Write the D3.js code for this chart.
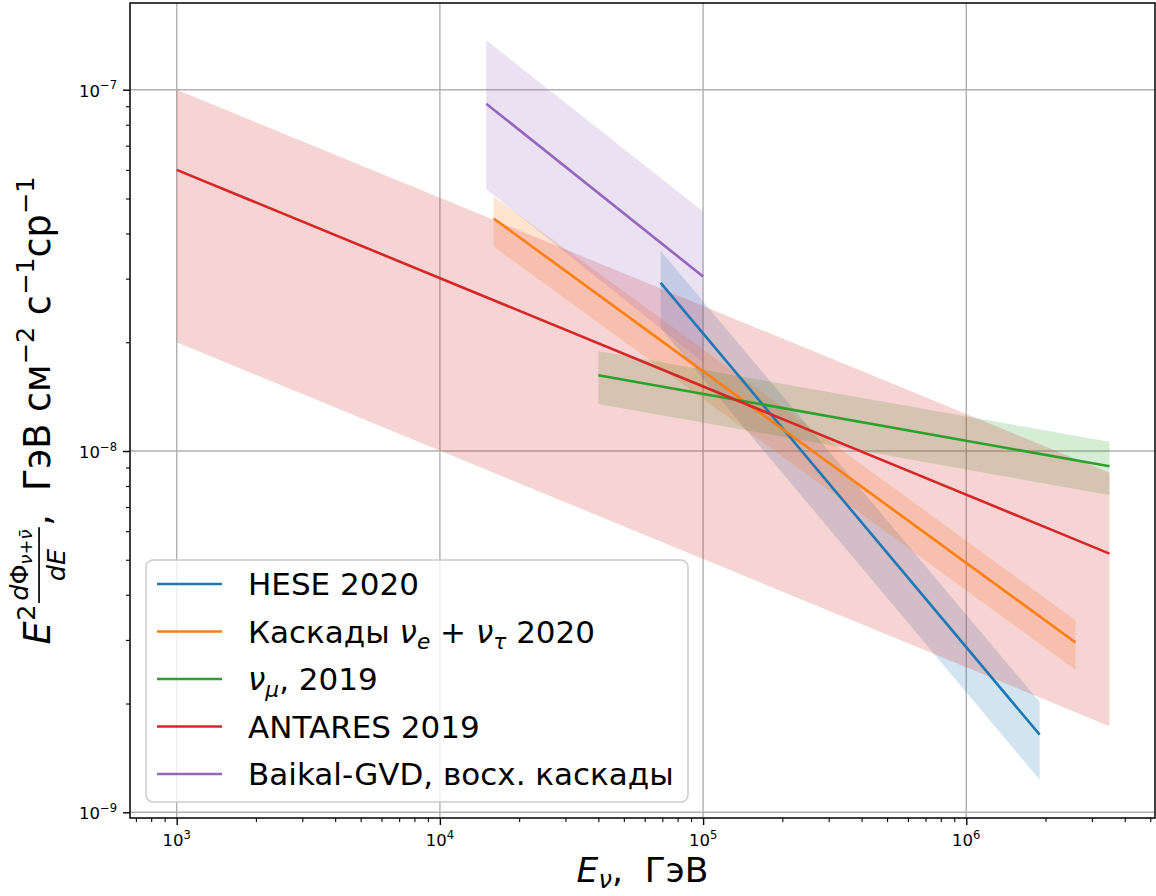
<!DOCTYPE html>
<html>
<head>
<meta charset="utf-8">
<script src="https://cdn.jsdelivr.net/npm/d3@7"></script>
<style>
  body { margin: 0; background: #ffffff; }
  text { font-family: "DejaVu Sans", sans-serif; fill: #000; }
</style>
</head>
<body>
<svg id="chart" width="1156" height="896"></svg>
<script>
// Diffuse astrophysical neutrino flux fits: best-fit power law and its uncertainty band.
const seriesLabels = ["HESE 2020", "Каскады ν_e + ν_τ 2020", "ν_μ, 2019", "ANTARES 2019", "Baikal-GVD, восх. каскады"];
const seriesColors = ["#1f77b4", "#ff7f0e", "#2ca02c", "#d62728", "#9467bd"];
// energy range of each fit, GeV
const energyMin = [6.9e4, 1.6e4, 4.0e4, 1.0e3, 1.5e4];
const energyMax = [1.9e6, 2.6e6, 3.5e6, 3.5e6, 1.0e5];
// E^2 dPhi/dE (GeV cm^-2 s^-1 sr^-1) of the best fit at both ends
const fluxAtMin = [2.92e-8, 4.40e-8, 1.62e-8, 6.0e-8, 9.15e-8];
const fluxAtMax = [1.64e-9, 2.95e-9, 9.07e-9, 5.2e-9, 3.04e-8];
// upper and lower edges of the uncertainty band at both ends
const upperAtMin = [3.58e-8, 5.06e-8, 1.89e-8, 1.0e-7, 1.37e-7];
const upperAtMax = [2.02e-9, 3.40e-9, 1.06e-8, 8.7e-9, 4.60e-8];
const lowerAtMin = [2.19e-8, 3.68e-8, 1.35e-8, 2.0e-8, 5.30e-8];
const lowerAtMax = [1.23e-9, 2.48e-9, 7.55e-9, 1.73e-9, 1.76e-8];
// axis ticks
const xMajorTicks = [1e3, 1e4, 1e5, 1e6];
const xTickExponents = ["3", "4", "5", "6"];
const yMajorTicks = [1e-9, 1e-8, 1e-7];
const yTickExponents = ["−9", "−8", "−7"];

const svg = d3.select("#chart");
const area = { left: 130, right: 1155, top: 3, bottom: 818 };

const x = d3.scaleLog()
  .domain([Math.pow(10, 2.8226), Math.pow(10, 6.717)])
  .range([area.left, area.right]);
const y = d3.scaleLog()
  .domain([Math.pow(10, -9.0158), Math.pow(10, -6.760)])
  .range([area.bottom, area.top]);

svg.append("defs").append("clipPath").attr("id", "plotClip")
  .append("rect")
  .attr("x", area.left).attr("y", area.top)
  .attr("width", area.right - area.left).attr("height", area.bottom - area.top);

// grid
const grid = svg.append("g").attr("stroke", "#b0b0b0").attr("stroke-width", 1.4);
grid.selectAll("line.gx").data(xMajorTicks).join("line")
  .attr("x1", d => x(d)).attr("x2", d => x(d))
  .attr("y1", area.top).attr("y2", area.bottom);
grid.selectAll("line.gy").data(yMajorTicks).join("line")
  .attr("y1", d => y(d)).attr("y2", d => y(d))
  .attr("x1", area.left).attr("x2", area.right);

const plotG = svg.append("g").attr("clip-path", "url(#plotClip)");
const idx = d3.range(seriesLabels.length);

// uncertainty bands
const poly = d3.line().x(d => x(d[0])).y(d => y(d[1]));
plotG.selectAll("path.band").data(idx).join("path")
  .attr("class", "band")
  .attr("d", i => poly([
    [energyMin[i], upperAtMin[i]], [energyMax[i], upperAtMax[i]],
    [energyMax[i], lowerAtMax[i]], [energyMin[i], lowerAtMin[i]]
  ]) + "Z")
  .attr("fill", i => seriesColors[i])
  .attr("fill-opacity", 0.2);

// best-fit lines
plotG.selectAll("path.fit").data(idx).join("path")
  .attr("class", "fit")
  .attr("d", i => poly([[energyMin[i], fluxAtMin[i]], [energyMax[i], fluxAtMax[i]]]))
  .attr("fill", "none")
  .attr("stroke", i => seriesColors[i])
  .attr("stroke-width", 2.6);

// axes
const xMinor = x.ticks().filter(v => !xMajorTicks.some(m => Math.abs(m - v) / m < 1e-6));
const yMinor = y.ticks().filter(v => !yMajorTicks.some(m => Math.abs(m - v) / m < 1e-6));

function styleAxis(g, w) {
  g.select(".domain").remove();
  g.selectAll(".tick line").attr("stroke", "#000").attr("stroke-width", w);
}
svg.append("g").attr("transform", `translate(0,${area.bottom})`)
  .call(d3.axisBottom(x).tickValues(xMajorTicks).tickSize(7).tickFormat(() => ""))
  .call(g => styleAxis(g, 1.4));
svg.append("g").attr("transform", `translate(0,${area.bottom})`)
  .call(d3.axisBottom(x).tickValues(xMinor).tickSize(4).tickFormat(() => ""))
  .call(g => styleAxis(g, 1.1));
svg.append("g").attr("transform", `translate(${area.left},0)`)
  .call(d3.axisLeft(y).tickValues(yMajorTicks).tickSize(7).tickFormat(() => ""))
  .call(g => styleAxis(g, 1.4));
svg.append("g").attr("transform", `translate(${area.left},0)`)
  .call(d3.axisLeft(y).tickValues(yMinor).tickSize(4).tickFormat(() => ""))
  .call(g => styleAxis(g, 1.1));

// frame
svg.append("rect")
  .attr("x", area.left).attr("y", area.top)
  .attr("width", area.right - area.left).attr("height", area.bottom - area.top)
  .attr("fill", "none").attr("stroke", "#000").attr("stroke-width", 1.5);

// power-of-ten tick labels
const tickFont = 16.5;
function powerLabel(sel, exp) {
  sel.append("tspan").text("10");
  sel.append("tspan").attr("font-size", tickFont * 0.7).attr("dy", -tickFont * 0.45).text(exp);
}
xMajorTicks.forEach((v, i) => {
  svg.append("text").attr("x", x(v)).attr("y", 846)
    .attr("font-size", tickFont).attr("text-anchor", "middle")
    .call(s => powerLabel(s, xTickExponents[i]));
});
yMajorTicks.forEach((v, i) => {
  svg.append("text").attr("x", 117).attr("y", y(v) + 7)
    .attr("font-size", tickFont).attr("text-anchor", "end")
    .call(s => powerLabel(s, yTickExponents[i]));
});

// x axis label
const labelFont = 34.5;
const xl = svg.append("text").attr("x", (area.left + area.right) / 2).attr("y", 882)
  .attr("font-size", labelFont).attr("text-anchor", "middle");
xl.append("tspan").attr("font-style", "italic").text("E");
xl.append("tspan").attr("font-style", "italic").attr("font-size", labelFont * 0.7)
  .attr("dy", labelFont * 0.16).text("ν");
xl.append("tspan").attr("dy", -labelFont * 0.16).attr("xml:space", "preserve").text(",  ГэВ");

// y axis label, laid out piece by piece in a rotated group
(function () {
  const F = 36.5;
  const outer = svg.append("g")
    .attr("transform", `translate(50,${(area.top + area.bottom) / 2}) rotate(-90)`);
  const inner = outer.append("g");
  let cx = 0;
  const tE = inner.append("text").attr("x", 0).attr("y", 0)
    .attr("font-size", F).attr("font-style", "italic").text("E");
  cx = tE.node().getComputedTextLength() + 0.02 * F;
  const t2 = inner.append("text").attr("x", cx).attr("y", -0.42 * F)
    .attr("font-size", 0.7 * F).text("2");
  cx += t2.node().getComputedTextLength() + 0.04 * F;

  const num = inner.append("text").attr("y", -0.6 * F).attr("font-size", 0.7 * F);
  num.append("tspan").attr("font-style", "italic").text("d");
  num.append("tspan").text("Φ");
  num.append("tspan").attr("font-style", "italic").attr("font-size", 0.49 * F).attr("dy", 0.12 * F).text("ν");
  num.append("tspan").attr("font-size", 0.49 * F).text("+");
  num.append("tspan").attr("font-style", "italic").attr("font-size", 0.49 * F).text("ν\u0304");
  const den = inner.append("text").attr("y", 0.4 * F).attr("font-size", 0.7 * F).attr("font-style", "italic").text("dE");
  const nw = num.node().getComputedTextLength();
  const dw = den.node().getComputedTextLength();
  const fw = Math.max(nw, dw) + 0.12 * F;
  num.attr("x", cx + (fw - nw) / 2);
  den.attr("x", cx + (fw - dw) / 2);
  inner.append("line").attr("x1", cx).attr("x2", cx + fw)
    .attr("y1", -0.3 * F).attr("y2", -0.3 * F)
    .attr("stroke", "#000").attr("stroke-width", 1.7);
  cx += fw + 0.04 * F;

  const rest = inner.append("text").attr("x", cx).attr("y", 0).attr("font-size", F)
    .attr("xml:space", "preserve");
  rest.append("tspan").text(",  ГэВ см");
  rest.append("tspan").attr("font-size", 0.7 * F).attr("dy", -0.45 * F).text("−2");
  rest.append("tspan").attr("dy", 0.45 * F).text(" с");
  rest.append("tspan").attr("font-size", 0.7 * F).attr("dy", -0.45 * F).text("−1");
  rest.append("tspan").attr("dy", 0.45 * F).text("ср");
  rest.append("tspan").attr("font-size", 0.7 * F).attr("dy", -0.45 * F).text("−1");
  cx += rest.node().getComputedTextLength();
  inner.attr("transform", `translate(${-cx / 2},0)`);
})();

// legend
const legend = { x: 146, y: 560, w: 542, h: 242, font: 31, rowY0: 584, rowStep: 47.5 };
svg.append("rect")
  .attr("x", legend.x).attr("y", legend.y).attr("width", legend.w).attr("height", legend.h)
  .attr("rx", 7).attr("fill", "#ffffff").attr("fill-opacity", 0.8)
  .attr("stroke", "#cccccc").attr("stroke-width", 1.5);

function richLabel(sel, label, size) {
  // "_c" marks a subscript character; Greek letters are set in italic
  const greek = /[α-ωΑ-Ω]/;
  let shift = 0;
  for (let k = 0; k < label.length; k++) {
    let ch = label[k];
    if (ch === "_") {
      const s = label[++k];
      sel.append("tspan").attr("font-style", "italic").attr("font-size", size * 0.7)
        .attr("dy", size * 0.22 - shift).text(s);
      shift = size * 0.22;
      continue;
    }
    let run = ch;
    const it = greek.test(ch);
    while (k + 1 < label.length && label[k + 1] !== "_" && greek.test(label[k + 1]) === it && !it) {
      run += label[++k];
    }
    sel.append("tspan").attr("font-style", it ? "italic" : "normal")
      .attr("dy", -shift).text(run);
    shift = 0;
  }
}

idx.forEach(i => {
  const ry = legend.rowY0 + i * legend.rowStep;
  svg.append("line").attr("x1", 157).attr("x2", 222).attr("y1", ry).attr("y2", ry)
    .attr("stroke", seriesColors[i]).attr("stroke-width", 2.6);
  const t = svg.append("text").attr("x", 248).attr("y", ry + 11)
    .attr("font-size", legend.font).attr("xml:space", "preserve");
  richLabel(t, seriesLabels[i], legend.font);
});
</script>
</body>
</html>
